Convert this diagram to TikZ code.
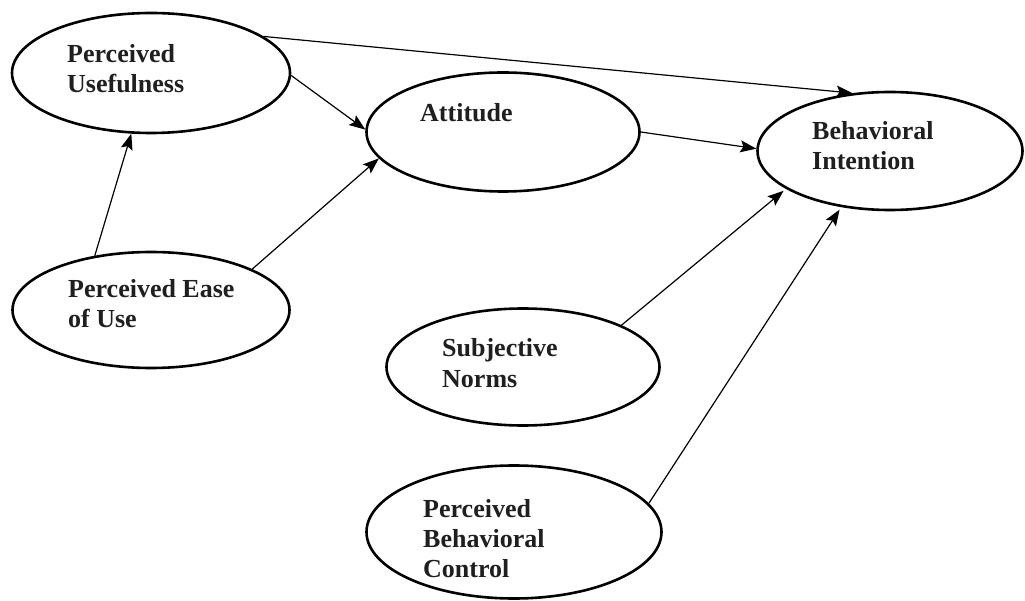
\documentclass[tikz,border=0pt]{standalone}
\usepackage{fontspec}
\setmainfont{Liberation Serif}
\usetikzlibrary{shapes.geometric,arrows.meta}
\tikzset{
  ell/.style={ellipse, draw=black, line width=2.6pt, inner sep=0pt, fill=white},
  lbl/.style={font=\fontsize{26}{30}\selectfont\bfseries, align=left, inner sep=0pt, anchor=base west, text=black!88},
  conn/.style={line width=1.2pt, draw=black, -{Stealth[length=16pt,width=12pt,inset=3pt]}}
}
\begin{document}
\begin{tikzpicture}[x=1pt,y=-1pt]
\useasboundingbox (0,0) rectangle (1025,601);
% ellipses
\node[ell, minimum width=278pt, minimum height=120pt] (pu)  at (151,73)  {};
\node[ell, minimum width=273pt, minimum height=119pt] (att) at (503,132) {};
\node[ell, minimum width=265pt, minimum height=118pt] (bi)  at (890,151) {};
\node[ell, minimum width=277pt, minimum height=116pt] (peu) at (151,310) {};
\node[ell, minimum width=273pt, minimum height=117pt] (sn)  at (523,367) {};
\node[ell, minimum width=295pt, minimum height=133pt] (pbc) at (514,532) {};
% labels (anchor at baseline of the last line)
\node[lbl] (pu-t)  at (67,93)  {Perceived\\Usefulness};
\node[lbl] (att-t) at (420,122) {Attitude};
\node[lbl] (bi-t)  at (812,170) {Behavioral\\Intention};
\node[lbl] (peu-t) at (68,328) {Perceived Ease\\of Use};
\node[lbl] (sn-t)  at (442,387) {Subjective\\Norms};
\node[lbl] (pbc-t) at (423,577) {Perceived\\Behavioral\\Control};
% connectors
\draw[conn] (peu.136) -- (pu.252);
\draw[conn] (pu.-1) -- (att.179);
\draw[conn] (pu.18) -- (bi.123);
\draw[conn] (peu.22) -- (att.192);
\draw[conn] (att.0) -- (bi.179);
\draw[conn, shorten >=3pt] (sn.23) -- (bi.200);
\draw[conn, shorten >=3pt] (pbc.12) -- (bi.229);
\end{tikzpicture}
\end{document}
